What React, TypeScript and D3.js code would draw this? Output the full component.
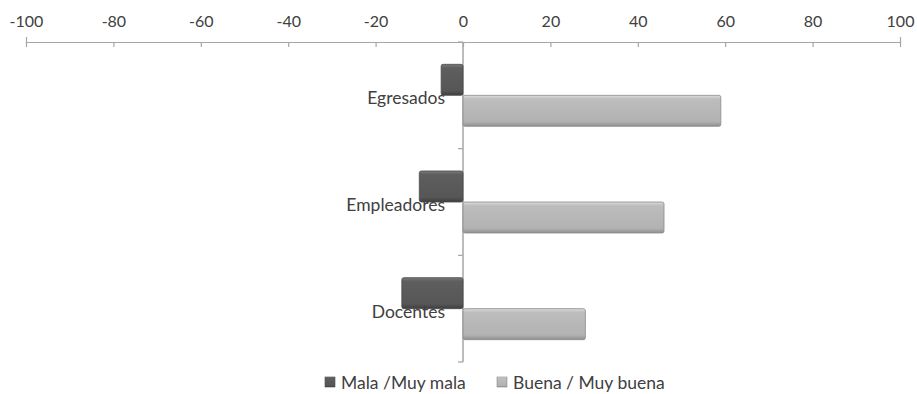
import React, { useRef, useEffect } from 'react';
import * as d3 from 'd3';

const categories = ['Egresados', 'Empleadores', 'Docentes'];
const malaValues = [-5, -10, -14];
const buenaValues = [59, 46, 28];
const seriesNames = ['Mala /Muy mala', 'Buena / Muy buena'];
const xTicks = [-100, -80, -60, -40, -20, 0, 20, 40, 60, 80, 100];

export default function App() {
  const svgRef = useRef<SVGSVGElement>(null);

  useEffect(() => {
    if (!svgRef.current) return;
    const width = 917;
    const height = 394;
    const font = 'Lato, "Open Sans", sans-serif';

    const svg = d3.select(svgRef.current);
    svg.selectAll('*').remove();
    svg.attr('width', width).attr('height', height);

    const defs = svg.append('defs');
    const grad = (id: string, stops: [number, string][]) => {
      const g = defs.append('linearGradient').attr('id', id)
        .attr('x1', 0).attr('y1', 0).attr('x2', 0).attr('y2', 1);
      stops.forEach(([o, c]) => g.append('stop').attr('offset', o).attr('stop-color', c));
    };
    grad('darkGrad', [[0, '#7a7a7a'], [0.12, '#5e5e5e'], [0.85, '#565656'], [1, '#3e3e3e']]);
    grad('lightGrad', [[0, '#dcdcdc'], [0.12, '#bdbdbd'], [0.85, '#b2b2b2'], [1, '#8e8e8e']]);

    const top = 42;
    const bottom = 362;

    const x = d3.scaleLinear().domain([-100, 100]).range([26, 900]);
    const y = d3.scaleBand().domain(categories).range([top, bottom]).paddingInner(0).paddingOuter(0);
    const sub = d3.scaleBand().domain(['mala', 'buena']).range([0, y.bandwidth()]).paddingInner(0).paddingOuter(0.72);

    // Top axis
    svg.append('g')
      .attr('transform', `translate(0,${top})`)
      .call(d3.axisTop(x).tickValues(xTicks).tickSize(5).tickPadding(10).tickSizeOuter(5)
        .tickFormat(d => String(d)))
      .call(g => g.selectAll('path, line').attr('stroke', '#a6a6a6').attr('stroke-width', 1.2))
      .call(g => g.selectAll('line').attr('transform', 'scale(1,-1)'))
      .call(g => g.selectAll('text')
        .style('font-family', font)
        .style('font-size', '16px')
        .style('fill', '#404040'));

    // Vertical category axis at zero
    const yAxis = svg.append('g').attr('transform', `translate(${x(0)},0)`);
    yAxis.append('line')
      .attr('y1', top).attr('y2', bottom)
      .attr('stroke', '#a6a6a6').attr('stroke-width', 1.5);
    yAxis.selectAll('.ytick')
      .data(d3.range(categories.length + 1))
      .enter()
      .append('line')
      .attr('class', 'ytick')
      .attr('x1', -5).attr('x2', 0)
      .attr('y1', d => top + d * y.step())
      .attr('y2', d => top + d * y.step())
      .attr('stroke', '#a6a6a6').attr('stroke-width', 1.2);

    const rows = categories.map((c, i) => ({ c, mala: malaValues[i], buena: buenaValues[i] }));

    // Mala bars
    svg.selectAll('.mala')
      .data(rows)
      .enter()
      .append('rect')
      .attr('class', 'mala')
      .attr('x', d => x(d.mala))
      .attr('y', d => (y(d.c) || 0) + (sub('mala') || 0))
      .attr('width', d => x(0) - x(d.mala))
      .attr('height', sub.bandwidth())
      .attr('rx', 2)
      .attr('fill', 'url(#darkGrad)')
      .attr('stroke', '#4a4a4a')
      .attr('stroke-width', 0.8);

    // Buena bars
    svg.selectAll('.buena')
      .data(rows)
      .enter()
      .append('rect')
      .attr('class', 'buena')
      .attr('x', x(0))
      .attr('y', d => (y(d.c) || 0) + (sub('buena') || 0))
      .attr('width', d => x(d.buena) - x(0))
      .attr('height', sub.bandwidth())
      .attr('rx', 2)
      .attr('fill', 'url(#lightGrad)')
      .attr('stroke', '#8a8a8a')
      .attr('stroke-width', 0.8);

    // Category labels
    svg.selectAll('.cat')
      .data(categories)
      .enter()
      .append('text')
      .attr('class', 'cat')
      .attr('x', x(0) - 18)
      .attr('y', d => (y(d) || 0) + y.bandwidth() / 2 + 9)
      .attr('text-anchor', 'end')
      .style('font-family', font)
      .style('font-size', '17.5px')
      .style('fill', '#404040')
      .text(d => d);

    // Legend
    const legend = svg.append('g');
    const legendX = [325, 497];
    const fills = ['url(#darkGrad)', 'url(#lightGrad)'];
    const strokes = ['#4a4a4a', '#8a8a8a'];
    seriesNames.forEach((name, i) => {
      legend.append('rect')
        .attr('x', legendX[i]).attr('y', 377)
        .attr('width', 10).attr('height', 10)
        .attr('fill', fills[i]).attr('stroke', strokes[i]).attr('stroke-width', 0.6);
      legend.append('text')
        .attr('x', legendX[i] + 16).attr('y', 389)
        .style('font-family', font)
        .style('font-size', '17.5px')
        .style('fill', '#404040')
        .text(name);
    });
  }, []);

  return (
    <div style={{ position: 'absolute', left: 0, top: 0, width: 917, height: 394, background: '#fff' }}>
      <svg ref={svgRef} style={{ display: 'block' }} />
    </div>
  );
}
